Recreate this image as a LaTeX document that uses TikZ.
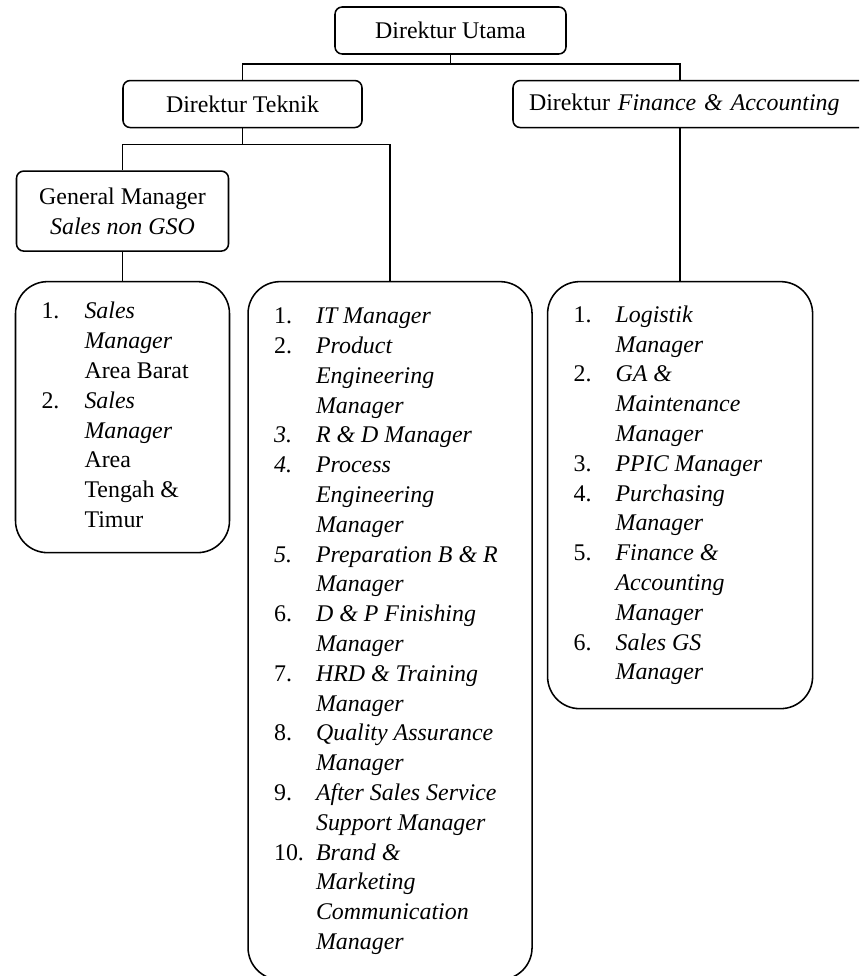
\documentclass[tikz,border=0pt]{standalone}
\usepackage{fontspec}
\setmainfont{Liberation Serif}
\usepackage{array}
\usepackage{tikz}
\usetikzlibrary{positioning, calc}
\newcommand{\orgfont}{\fontsize{17}{21.2}\selectfont}
\tikzset{
    dirbox/.style={rectangle, draw, rounded corners=0.18cm, minimum height=1.175cm, text centered, line width=1.1pt},
    listbox/.style={rectangle, draw, rounded corners=0.8cm, inner xsep=0.65cm, inner ysep=0pt, line width=1.1pt},
    link/.style={line width=1.1pt},
}

\begin{document}
\begin{tikzpicture}[every node/.style={font=\orgfont}]
    \useasboundingbox (0,0) rectangle (21.475,-24.4);
    \clip (0,0) rectangle (21.475,-24.4);

    \node[dirbox, minimum width=5.775cm] (utama) at (11.2625,-0.7625) {Direktur Utama};

    \node[dirbox, minimum width=5.975cm, below=0.625cm of utama, xshift=-5.2cm] (teknik) {Direktur Teknik};
    \node[dirbox, text width=8.5cm, align=left, inner xsep=0.4cm, text depth=0.3em, below=0.625cm of utama, xshift=6.2125cm] (fa) {Direktur \textit{Finance \& Accounting}};

    \node[dirbox, minimum width=5.3cm, minimum height=2cm, align=center, below=1.05cm of teknik, xshift=-3.0cm] (gm) {General Manager\\\textit{Sales non GSO}};

    \node[listbox, minimum width=5.35cm, minimum height=6.775cm, below=0.725cm of gm] (listsales) {%
        \begin{tabular}{@{}p{1.075cm}@{}>{\itshape}p{2.975cm}@{}}
        1. & Sales\\
           & Manager\\
           & \upshape Area Barat\\
        2. & Sales\\
           & Manager\\
           & \upshape Area\\
           & \upshape Tengah \&\\
           & \upshape Timur
        \end{tabular}};

    \node[listbox, minimum width=7.1cm, minimum height=17.45cm, right=0.425cm of listsales.north east, anchor=north west] (listteknik) {%
        \begin{tabular}{@{}p{1.05cm}@{}>{\itshape}p{4.75cm}@{}}
        1. & IT Manager\\
        2. & Product\\
           & Engineering\\
           & Manager\\
        \textit{3.} & R \& D Manager\\
        \textit{4.} & Process\\
           & Engineering\\
           & Manager\\
        \textit{5.} & Preparation B \& R\\
           & Manager\\
        6. & D \& P Finishing\\
           & Manager\\
        7. & HRD \& Training\\
           & Manager\\
        8. & Quality Assurance\\
           & Manager\\
        9. & After Sales Service\\
           & Support Manager\\
        10. & Brand \&\\
           & Marketing\\
           & Communication\\
           & Manager
        \end{tabular}};

    \node[listbox, minimum width=6.625cm, minimum height=10.675cm, right=0.35cm of listteknik.north east, anchor=north west] (listfa) {%
        \begin{tabular}{@{}p{1.05cm}@{}>{\itshape}p{4.275cm}@{}}
        1. & Logistik\\
           & Manager\\
        2. & GA \&\\
           & Maintenance\\
           & Manager\\
        3. & PPIC Manager\\
        4. & Purchasing\\
           & Manager\\
        5. & Finance \&\\
           & Accounting\\
           & Manager\\
        6. & Sales GS\\
           & Manager
        \end{tabular}};

    \draw[link] (utama.south) -- ++(0,-0.225cm) -| (teknik.north);
    \draw[link] (utama.south) -- ++(0,-0.225cm) -| (listfa.north |- fa.north);
    \draw[link] (fa.south -| listfa.north) -- (listfa.north);
    \draw[link] (teknik.south) -- ++(0,-0.4cm) -| (gm.north);
    \draw[link] (teknik.south) -- ++(0,-0.4cm) -| (listteknik.north);
    \draw[link] (gm) -- (listsales);
\end{tikzpicture}
\end{document}
